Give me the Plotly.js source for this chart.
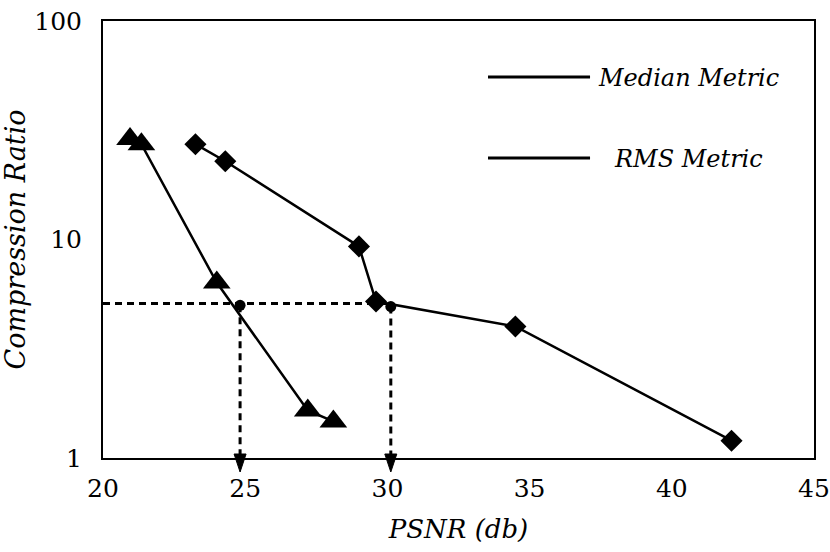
<!DOCTYPE html>
<html>
<head>
<meta charset="utf-8">
<script src="https://cdn.plot.ly/plotly-3.0.1.min.js"></script>
<style>
  html, body { margin: 0; padding: 0; background: #ffffff; }
  #chart { width: 830px; height: 552px; }
</style>
</head>
<body>
<div id="chart"></div>
<script>
// ---- data ----
var medianPsnr  = [20.95, 21.35, 24.0, 27.2, 28.1];
var medianRatio = [28.8, 27.3, 6.35, 1.65, 1.47];

var rmsPsnr  = [23.25, 24.3, 29.0, 29.6, 34.5, 42.1];
var rmsRatio = [27.3, 22.8, 9.3, 5.2, 4.0, 1.2];

var crossPsnr  = [24.82, 30.12];
var crossRatio = [5.0, 4.93];
var targetRatio = 5.1;

var xTickVals = [20, 25, 30, 35, 40, 45];
var yTickVals = [1, 10, 100];
var legendLabels = ["Median Metric", "RMS Metric"];
var xTitle = "PSNR (db)";
var yTitle = "Compression Ratio";

var serif = "DejaVu Serif";

// dashed guide lines (horizontal target + vertical drops)
var guideX = [20, crossPsnr[1], null, crossPsnr[0], crossPsnr[0], null, crossPsnr[1], crossPsnr[1]];
var guideY = [targetRatio, targetRatio, null, crossRatio[0], 1, null, crossRatio[1], 1];

var traces = [
  { x: guideX, y: guideY, mode: 'lines', showlegend: false, hoverinfo: 'skip',
    line: { color: '#000', width: 3, dash: '7px,5px' } },
  { name: legendLabels[0], x: medianPsnr, y: medianRatio, mode: 'lines+markers',
    line: { color: '#000', width: 2.5 },
    marker: { symbol: 'triangle-up', size: 24, color: '#000' }, showlegend: false },
  { name: legendLabels[1], x: rmsPsnr, y: rmsRatio, mode: 'lines+markers',
    line: { color: '#000', width: 2.5 },
    marker: { symbol: 'diamond', size: 17, color: '#000' }, showlegend: false },
  { x: crossPsnr, y: crossRatio, mode: 'markers', showlegend: false,
    marker: { symbol: 'circle', size: 11, color: '#000' } }
];

var annotations = [
  { xref: 'paper', yref: 'paper', x: 0.824, y: 0.870, xanchor: 'center', yanchor: 'middle',
    text: '<i>' + legendLabels[0] + '</i>', showarrow: false, font: { family: serif, size: 24 } },
  { xref: 'paper', yref: 'paper', x: 0.824, y: 0.684, xanchor: 'center', yanchor: 'middle',
    text: '<i>' + legendLabels[1] + '</i>', showarrow: false, font: { family: serif, size: 24 } }
];

var shapes = [
  { type: 'line', xref: 'paper', yref: 'paper', x0: 0.5415, x1: 0.685, y0: 0.872, y1: 0.872,
    line: { color: '#000', width: 3 } },
  { type: 'line', xref: 'paper', yref: 'paper', x0: 0.5415, x1: 0.685, y0: 0.6865, y1: 0.6865,
    line: { color: '#000', width: 3 } }
];
// arrow heads at the foot of each vertical drop (anchored at the data x, pixel-sized)
crossPsnr.forEach(function (px) {
  shapes.push({
    type: 'path', xref: 'x', yref: 'paper', xsizemode: 'pixel', ysizemode: 'pixel',
    xanchor: px, yanchor: 0, path: 'M-6,4 L6,4 L0,-14 Z',
    fillcolor: '#000', line: { color: '#000', width: 1 }, layer: 'above'
  });
});

var layout = {
  width: 830, height: 552,
  margin: { l: 103, r: 16, t: 21, b: 94 },
  showlegend: false,
  font: { family: serif, color: '#000' },
  xaxis: {
    range: [20, 45], tickvals: xTickVals,
    showgrid: false, zeroline: false,
    showline: true, mirror: true, linecolor: '#000', linewidth: 2,
    ticks: 'outside', ticklen: 7, tickcolor: 'rgba(0,0,0,0)',
    tickfont: { family: serif, size: 25 },
    title: { text: '<i>' + xTitle + '</i>', standoff: 18, font: { family: serif, size: 26 } }
  },
  yaxis: {
    type: 'log', range: [0, 2], tickvals: yTickVals,
    showgrid: false, zeroline: false,
    showline: true, mirror: true, linecolor: '#000', linewidth: 2,
    ticks: 'outside', ticklen: 14, tickcolor: 'rgba(0,0,0,0)',
    tickfont: { family: serif, size: 25 },
    title: { text: '<i>' + yTitle + '</i>', standoff: 12, font: { family: serif, size: 27 } }
  },
  shapes: shapes,
  annotations: annotations
};

Plotly.newPlot('chart', traces, layout, { staticPlot: true });
</script>
</body>
</html>
